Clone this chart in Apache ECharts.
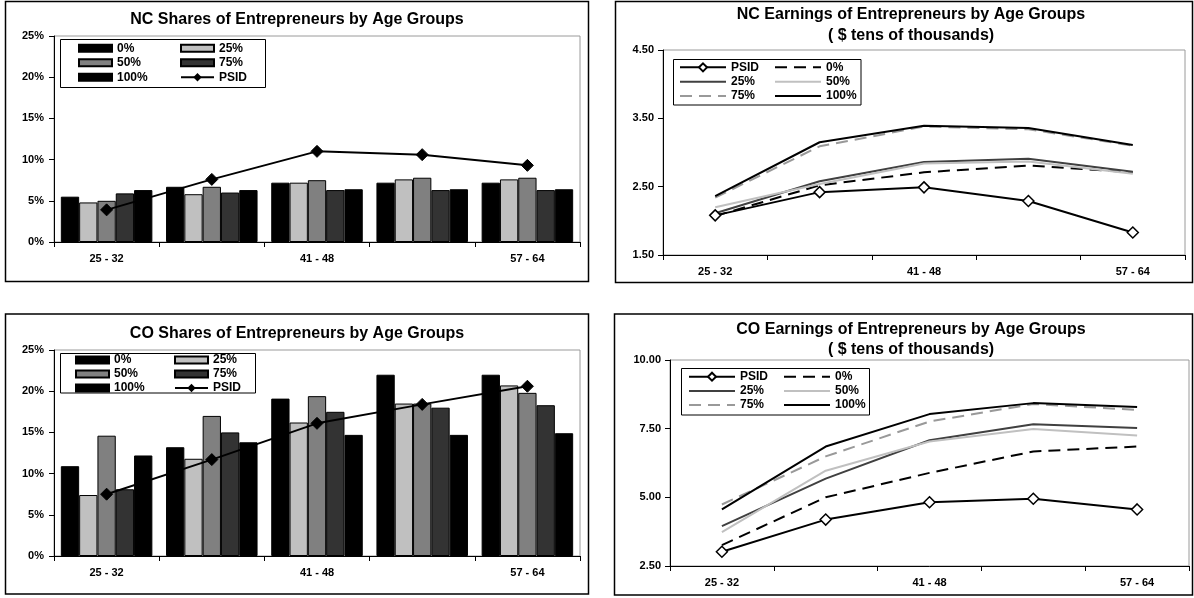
<!DOCTYPE html>
<html>
<head>
<meta charset="utf-8">
<title>Entrepreneurs by Age Groups</title>
<script src="https://cdn.jsdelivr.net/npm/echarts@6/dist/echarts.min.js"></script>
<style>
  html, body { margin: 0; padding: 0; background: #fff; }
  .panel { position: absolute; }
</style>
</head>
<body>
<div id="ncShares" class="panel" style="left:0;top:0;width:597px;height:298px"></div>
<div id="ncEarnings" class="panel" style="left:597px;top:0;width:597px;height:298px"></div>
<div id="coShares" class="panel" style="left:0;top:298px;width:597px;height:300px"></div>
<div id="coEarnings" class="panel" style="left:597px;top:298px;width:597px;height:300px"></div>
<script>
// ---- data -------------------------------------------------------------
const ageGroups = ['25 - 32', '33 - 40', '41 - 48', '49 - 56', '57 - 64'];
const scenarioNames = ['0%', '25%', '50%', '75%', '100%'];
const psidName = 'PSID';

// NC: share of entrepreneurs (%)
const ncShare0   = [5.5, 6.7, 7.2, 7.2, 7.2];
const ncShare25  = [4.8, 5.8, 7.2, 7.6, 7.6];
const ncShare50  = [5.0, 6.7, 7.5, 7.8, 7.8];
const ncShare75  = [5.9, 6.0, 6.3, 6.3, 6.3];
const ncShare100 = [6.3, 6.3, 6.4, 6.4, 6.4];
const ncSharePsid = [3.9, 7.6, 11.0, 10.6, 9.3];

// CO: share of entrepreneurs (%)
const coShare0   = [10.9, 13.2, 19.1, 22.0, 22.0];
const coShare25  = [7.4, 11.8, 16.2, 18.5, 20.7];
const coShare50  = [14.6, 17.0, 19.4, 18.5, 19.8];
const coShare75  = [8.1, 15.0, 17.5, 18.0, 18.3];
const coShare100 = [12.2, 13.8, 14.7, 14.7, 14.9];
const coSharePsid = [7.5, 11.7, 16.1, 18.4, 20.6];

// NC: earnings of entrepreneurs ($ tens of thousands)
const ncEarnPsid = [2.08, 2.42, 2.49, 2.29, 1.83];
const ncEarn0    = [2.07, 2.52, 2.71, 2.81, 2.71];
const ncEarn25   = [2.11, 2.58, 2.86, 2.91, 2.72];
const ncEarn50   = [2.20, 2.54, 2.84, 2.87, 2.69];
const ncEarn75   = [2.34, 3.09, 3.38, 3.34, 3.10];
const ncEarn100  = [2.36, 3.15, 3.39, 3.36, 3.11];

// CO: earnings of entrepreneurs ($ tens of thousands)
const coEarnPsid = [3.02, 4.19, 4.82, 4.95, 4.56];
const coEarn0    = [3.26, 5.00, 5.89, 6.67, 6.85];
const coEarn25   = [3.95, 5.68, 7.08, 7.66, 7.52];
const coEarn50   = [3.73, 5.97, 7.03, 7.49, 7.25];
const coEarn75   = [4.74, 6.49, 7.76, 8.40, 8.18];
const coEarn100  = [4.56, 6.85, 8.03, 8.43, 8.29];

// ---- styling ----------------------------------------------------------
const FONT = "'Liberation Sans', Arial, Helvetica, sans-serif";
const barFills = ['#000000', '#c0c0c0', '#808080', '#333333', '#000000'];
const lineLooks = [
  { color: '#000000', type: [12, 7] },
  { color: '#404040', type: 'solid' },
  { color: '#c0c0c0', type: 'solid' },
  { color: '#999999', type: [12, 7] },
  { color: '#000000', type: 'solid' }
];

const tickFont = { fontFamily: FONT, fontSize: 11, fontWeight: 'bold', color: '#000' };

function rectEl(x, y, w, h, lw) {
  return {
    type: 'rect', silent: true, z: 0,
    shape: { x: x, y: y, width: w, height: h },
    style: { fill: 'none', stroke: '#000', lineWidth: lw }
  };
}

function titleOpt(text, cx, top, lh) {
  return {
    text: text, left: cx, top: top, padding: 0, textAlign: 'center',
    textStyle: { fontFamily: FONT, fontSize: 16, fontWeight: 'bold', color: '#000', lineHeight: lh }
  };
}

function categoryAxis() {
  return {
    type: 'category', data: ageGroups, boundaryGap: true,
    axisLine: { show: true, lineStyle: { color: '#000', width: 1 } },
    axisTick: { show: true, interval: 0, length: 5, lineStyle: { color: '#000' } },
    axisLabel: Object.assign({ interval: 1, margin: 11 }, tickFont),
    splitLine: { show: false }
  };
}

function valueAxis(min, max, step, fmt, margin) {
  return {
    type: 'value', min: min, max: max, interval: step,
    axisLine: { show: true, lineStyle: { color: '#000', width: 1 } },
    axisTick: { show: true, length: 5, lineStyle: { color: '#000' } },
    axisLabel: Object.assign({ formatter: fmt, margin: margin }, tickFont),
    splitLine: { show: false }
  };
}

function gridOpt(g) {
  return {
    left: g.left, top: g.top, width: g.width, height: g.height,
    show: true, borderColor: '#9a9a9a', borderWidth: 1, backgroundColor: 'transparent',
    containLabel: false, outerBoundsMode: 'none'
  };
}

// Bar panel: five scenarios as bars, PSID as a line with filled diamonds
function drawShares(id, cfg, values, psid) {
  const chart = echarts.init(document.getElementById(id));
  const series = scenarioNames.map(function (name, i) {
    return {
      type: 'bar', name: name, data: values[i],
      barGap: '0%', barCategoryGap: '13%',
      itemStyle: { color: barFills[i], borderColor: '#000', borderWidth: 1 }
    };
  });
  series.push({
    type: 'line', name: psidName, data: psid, z: 5,
    symbol: 'diamond', symbolSize: 12,
    lineStyle: { color: '#000', width: 2 },
    itemStyle: { color: '#000', borderColor: '#000', borderWidth: 1 }
  });
  chart.setOption({
    animation: false,
    textStyle: { fontFamily: FONT },
    title: titleOpt(cfg.title, cfg.titleX, cfg.titleTop, 20),
    graphic: [
      rectEl(cfg.frame[0], cfg.frame[1], cfg.frame[2], cfg.frame[3], 1.5),
      rectEl(cfg.box[0], cfg.box[1], cfg.box[2], cfg.box[3], 1)
    ],
    grid: gridOpt(cfg.grid),
    legend: {
      left: cfg.legend.left, top: cfg.legend.top, padding: 0, width: cfg.legend.width,
      orient: 'horizontal', selectedMode: false,
      itemWidth: 33, itemHeight: 7, itemGap: 2,
      textStyle: { fontFamily: FONT, fontSize: 12, fontWeight: 'bold', color: '#000',
                   width: cfg.legend.textWidth, lineHeight: cfg.legend.lineHeight },
      data: scenarioNames.map(function (n) { return { name: n, icon: 'rect' }; })
              .concat([{ name: psidName }])
    },
    xAxis: categoryAxis(),
    yAxis: valueAxis(0, 25, 5, '{value}%', 10),
    series: series
  });
}

// Line panel: PSID with hollow diamonds, five scenario lines
function drawEarnings(id, cfg, psid, values) {
  const chart = echarts.init(document.getElementById(id));
  const series = [{
    type: 'line', name: psidName, data: psid,
    symbol: 'diamond', symbolSize: 11,
    lineStyle: { color: '#000', width: 2 },
    itemStyle: { color: '#fff', borderColor: '#000', borderWidth: 1.5 }
  }];
  scenarioNames.forEach(function (name, i) {
    series.push({
      type: 'line', name: name, data: values[i],
      symbol: 'none',
      lineStyle: { color: lineLooks[i].color, type: lineLooks[i].type, width: 2 },
      itemStyle: { color: lineLooks[i].color }
    });
  });
  chart.setOption({
    animation: false,
    textStyle: { fontFamily: FONT },
    title: titleOpt(cfg.title, cfg.titleX, cfg.titleTop, cfg.titleLH),
    graphic: [
      rectEl(cfg.frame[0], cfg.frame[1], cfg.frame[2], cfg.frame[3], 1.5),
      rectEl(cfg.box[0], cfg.box[1], cfg.box[2], cfg.box[3], 1)
    ],
    grid: gridOpt(cfg.grid),
    legend: {
      left: cfg.legend.left, top: cfg.legend.top, padding: 0, width: 190,
      orient: 'horizontal', selectedMode: false,
      itemWidth: 46, itemHeight: 10, itemGap: 2,
      textStyle: { fontFamily: FONT, fontSize: 12, fontWeight: 'bold', color: '#000',
                   width: 41, lineHeight: cfg.legend.lineHeight },
      data: [{ name: psidName }].concat(scenarioNames.map(function (n) {
        return { name: n, itemStyle: { opacity: 0 } };
      }))
    },
    xAxis: categoryAxis(),
    yAxis: valueAxis(cfg.yMin, cfg.yMax, cfg.yStep, function (v) { return v.toFixed(2); }, 9),
    series: series
  });
}

drawShares('ncShares', {
  title: 'NC Shares of Entrepreneurs by Age Groups', titleX: 297, titleTop: 10,
  frame: [5.5, 1.5, 583, 280],
  box: [60.5, 39.5, 205, 48],
  grid: { left: 54, top: 36, width: 526, height: 206 },
  legend: { left: 78, top: 42, width: 205, textWidth: 61, lineHeight: 12.5 }
}, [ncShare0, ncShare25, ncShare50, ncShare75, ncShare100], ncSharePsid);

drawShares('coShares', {
  title: 'CO Shares of Entrepreneurs by Age Groups', titleX: 297, titleTop: 26,
  frame: [5.5, 16, 583, 280],
  box: [60.5, 55.5, 195, 39.5],
  grid: { left: 54, top: 52, width: 526, height: 206 },
  legend: { left: 75, top: 56, width: 200, textWidth: 58, lineHeight: 11.8 }
}, [coShare0, coShare25, coShare50, coShare75, coShare100], coSharePsid);

drawEarnings('ncEarnings', {
  title: 'NC Earnings of Entrepreneurs by Age Groups\n( $ tens of thousands)',
  titleX: 314, titleTop: 4.5, titleLH: 21,
  frame: [18.5, 1.5, 577, 281],
  box: [76.5, 59.5, 187.5, 45.5],
  grid: { left: 66, top: 50, width: 522, height: 205 },
  legend: { left: 82, top: 61.2, lineHeight: 12.3 },
  yMin: 1.5, yMax: 4.5, yStep: 1
}, ncEarnPsid, [ncEarn0, ncEarn25, ncEarn50, ncEarn75, ncEarn100]);

drawEarnings('coEarnings', {
  title: 'CO Earnings of Entrepreneurs by Age Groups\n( $ tens of thousands)',
  titleX: 314, titleTop: 22, titleLH: 20,
  frame: [17.5, 16, 578, 281],
  box: [84.5, 70.5, 188, 46.5],
  grid: { left: 73, top: 62, width: 519, height: 206 },
  legend: { left: 91, top: 72.6, lineHeight: 12.2 },
  yMin: 2.5, yMax: 10, yStep: 2.5
}, coEarnPsid, [coEarn0, coEarn25, coEarn50, coEarn75, coEarn100]);
</script>
</body>
</html>
